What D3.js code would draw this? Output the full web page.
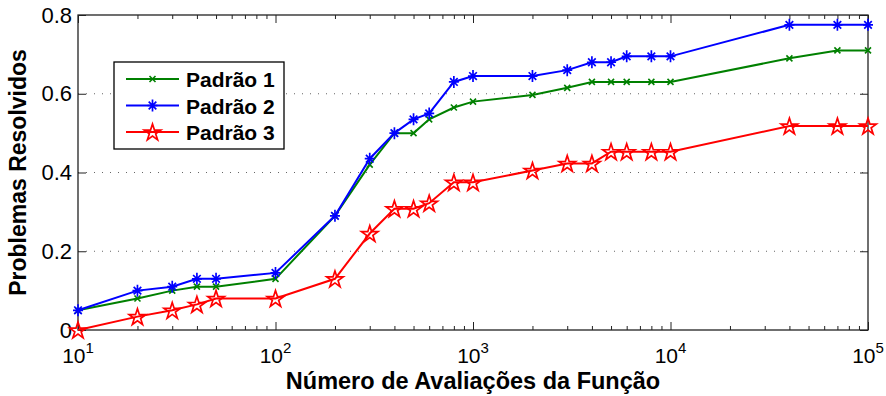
<!DOCTYPE html>
<html>
<head>
<meta charset="utf-8">
<script src="https://cdn.jsdelivr.net/npm/d3@7"></script>
<style>
  body { margin: 0; background: #fff; }
  svg { font-family: "Liberation Sans", Arial, sans-serif; }
</style>
</head>
<body>
<svg id="chart"></svg>
<script>
// canvas
var width = 886;
var height = 396;

var margin = { top: 15, left: 78, bottom: 66, right: 18 };

// data
var avaliacoes = [10, 20, 30, 40, 50, 100, 200, 300, 400, 500, 600, 800, 1000,
                  2000, 3000, 4000, 5000, 6000, 8000, 10000, 40000, 70000, 100000];
var padrao1 = [0.05, 0.08, 0.10, 0.11, 0.11, 0.13, 0.29, 0.42, 0.50, 0.50, 0.535, 0.565, 0.58,
               0.597, 0.615, 0.63, 0.63, 0.63, 0.63, 0.63, 0.69, 0.71, 0.71];
var padrao2 = [0.05, 0.10, 0.11, 0.13, 0.13, 0.145, 0.29, 0.435, 0.50, 0.535, 0.55, 0.63, 0.645,
               0.645, 0.66, 0.68, 0.68, 0.695, 0.695, 0.695, 0.775, 0.775, 0.775];
var padrao3 = [0.0, 0.034, 0.05, 0.065, 0.08, 0.08, 0.13, 0.245, 0.308, 0.308, 0.322, 0.375, 0.375,
               0.405, 0.423, 0.423, 0.453, 0.453, 0.453, 0.453, 0.518, 0.518, 0.518];

var seriesNames = ["Padrão 1", "Padrão 2", "Padrão 3"];
var seriesColors = ["#008000", "#0000ff", "#ff0000"];
var seriesMarkers = ["x", "asterisk", "star"];
var yTicks = [0, 0.2, 0.4, 0.6, 0.8];
var xMajor = [10, 100, 1000, 10000, 100000];
var xLabel = "Número de Avaliações da Função";
var yLabel = "Problemas Resolvidos";

var series = [padrao1, padrao2, padrao3].map(function(vals, i) {
  return {
    name: seriesNames[i],
    color: seriesColors[i],
    marker: seriesMarkers[i],
    points: vals.map(function(v, j) { return { x: avaliacoes[j], y: v }; })
  };
});

var svg = d3.select("#chart")
  .attr("width", width)
  .attr("height", height);

// scales
var xScale = d3.scaleLog().domain([10, 100000]).range([margin.left, width - margin.right]);
var yScale = d3.scaleLinear().domain([0, 0.8]).range([height - margin.bottom, margin.top]);

var plotW = width - margin.right - margin.left;
var plotH = height - margin.bottom - margin.top;

// dotted horizontal grid
svg.append("g")
  .selectAll("line")
  .data(yTicks.filter(function(d) { return d > 0 && d < 0.8; }))
  .join("line")
  .attr("x1", margin.left)
  .attr("x2", width - margin.right)
  .attr("y1", function(d) { return yScale(d); })
  .attr("y2", function(d) { return yScale(d); })
  .style("stroke", "#666")
  .style("stroke-width", 1)
  .style("stroke-dasharray", "1,7");

// log axes, ticks inside
var minor = xScale.ticks().filter(function(d) { return xMajor.indexOf(d) < 0; });

function styleAxis(g) {
  g.select(".domain").remove();
  g.selectAll("line").style("stroke", "#222").style("stroke-width", 1);
}

svg.append("g")
  .attr("transform", `translate(0, ${height - margin.bottom})`)
  .call(d3.axisBottom(xScale).tickValues(xMajor).tickSize(-8).tickFormat(""))
  .call(styleAxis);
svg.append("g")
  .attr("transform", `translate(0, ${height - margin.bottom})`)
  .call(d3.axisBottom(xScale).tickValues(minor).tickSize(-4).tickFormat(""))
  .call(styleAxis);
svg.append("g")
  .attr("transform", `translate(0, ${margin.top})`)
  .call(d3.axisTop(xScale).tickValues(xMajor).tickSize(-8).tickFormat(""))
  .call(styleAxis);
svg.append("g")
  .attr("transform", `translate(0, ${margin.top})`)
  .call(d3.axisTop(xScale).tickValues(minor).tickSize(-4).tickFormat(""))
  .call(styleAxis);

var yAxis = svg.append("g")
  .attr("transform", `translate(${margin.left}, 0)`)
  .call(d3.axisLeft(yScale).tickValues(yTicks).tickSize(-8).tickPadding(6)
    .tickFormat(function(d) { return d === 0 ? "0" : d3.format(".1f")(d); }))
  .call(styleAxis);
yAxis.selectAll("text")
  .style("font-size", "22px")
  .style("font-family", "'Liberation Sans', Arial, sans-serif")
  .attr("fill", "#000");

svg.append("g")
  .attr("transform", `translate(${width - margin.right}, 0)`)
  .call(d3.axisRight(yScale).tickValues(yTicks).tickSize(-8).tickFormat(""))
  .call(styleAxis);

// x tick labels as 10^n
var xLabels = svg.append("g")
  .selectAll("text")
  .data(xMajor)
  .join("text")
  .attr("x", function(d) { return xScale(d); })
  .attr("y", height - margin.bottom + 33)
  .attr("text-anchor", "middle")
  .style("font-size", "21px");
xLabels.append("tspan").text("10");
xLabels.append("tspan")
  .attr("dy", -10)
  .style("font-size", "15px")
  .text(function(d) { return Math.round(Math.log10(d)); });

// frame
svg.append("rect")
  .attr("x", margin.left)
  .attr("y", margin.top)
  .attr("width", plotW)
  .attr("height", plotH)
  .style("fill", "none")
  .style("stroke", "#222")
  .style("stroke-width", 1.3);

// markers
var starPath = d3.symbol().type(d3.symbolStar).size(85)();
function drawMarker(sel, type, color) {
  if (type === "x") {
    sel.append("path")
      .attr("d", "M-3,-3L3,3M-3,3L3,-3")
      .style("stroke", color).style("stroke-width", 1.6).style("fill", "none");
  } else if (type === "asterisk") {
    sel.append("path")
      .attr("d", "M0,-6L0,6M-5,0L5,0M-3.8,-3.8L3.8,3.8M-3.8,3.8L3.8,-3.8")
      .style("stroke", color).style("stroke-width", 1.7).style("fill", "none");
  } else {
    sel.append("path")
      .attr("d", starPath)
      .attr("transform", "translate(0,0.8)")
      .style("stroke", color).style("stroke-width", 1.7).style("fill", "none");
  }
}

var line = d3.line()
  .x(function(d) { return xScale(d.x); })
  .y(function(d) { return yScale(d.y); });

series.forEach(function(s) {
  var g = svg.append("g");
  g.append("path")
    .attr("d", line(s.points))
    .style("fill", "none")
    .style("stroke", s.color)
    .style("stroke-width", 2);
  g.selectAll("g.mk")
    .data(s.points)
    .join("g")
    .attr("class", "mk")
    .attr("transform", function(d) { return `translate(${xScale(d.x)},${yScale(d.y)})`; })
    .each(function() { drawMarker(d3.select(this), s.marker, s.color); });
});

// axis titles
svg.append("text")
  .attr("text-anchor", "middle")
  .attr("x", margin.left + plotW / 2)
  .attr("y", 389)
  .style("font-size", "23.5px")
  .style("font-weight", "bold")
  .text(xLabel);

svg.append("text")
  .attr("text-anchor", "middle")
  .attr("transform", "translate(26," + (margin.top + plotH / 2) + ")rotate(-90)")
  .style("font-size", "23px")
  .style("font-weight", "bold")
  .text(yLabel);

// legend
var legend = svg.append("g").attr("transform", "translate(114,62)");
legend.append("rect")
  .attr("width", 170)
  .attr("height", 87)
  .style("fill", "#fff")
  .style("stroke", "#000")
  .style("stroke-width", 1.3);

series.forEach(function(s, i) {
  var row = legend.append("g").attr("transform", `translate(0, ${17 + i * 26.5})`);
  row.append("line")
    .attr("x1", 12).attr("x2", 65)
    .style("stroke", s.color).style("stroke-width", 2);
  var mk = row.append("g").attr("transform", "translate(38.5,0)");
  drawMarker(mk, s.marker, s.color);
  row.append("text")
    .attr("x", 72)
    .attr("y", 8)
    .style("font-size", "21px")
    .style("font-weight", "bold")
    .text(s.name);
});
</script>
</body>
</html>
